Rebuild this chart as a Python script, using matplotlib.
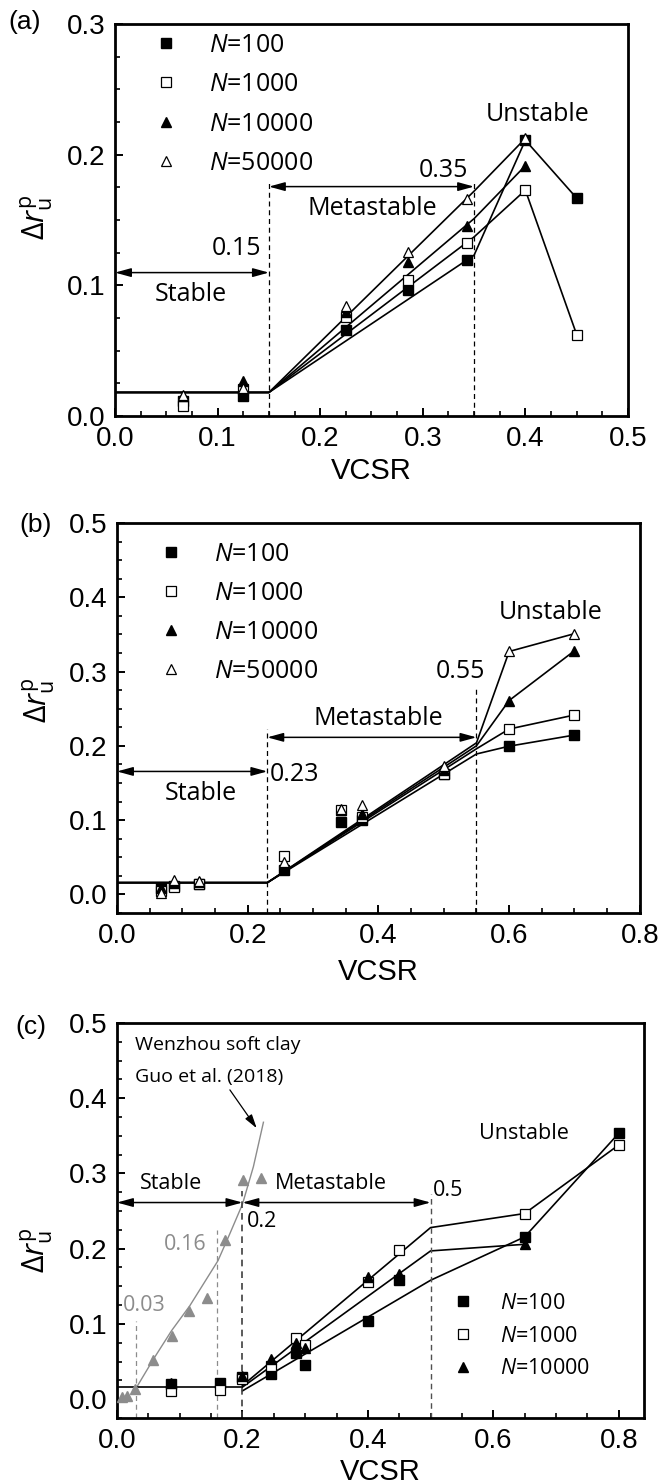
import numpy as np
import matplotlib
matplotlib.use("Agg")
import matplotlib.pyplot as plt
from matplotlib.ticker import MultipleLocator
from matplotlib.font_manager import FontProperties
from matplotlib.lines import Line2D

plt.rcParams['font.family'] = ['Liberation Sans', 'DejaVu Sans']
plt.rcParams['mathtext.fontset'] = 'custom'
plt.rcParams['mathtext.rm'] = 'Open Sans'
plt.rcParams['mathtext.it'] = 'Open Sans:italic'

# ---- panel (a) ----
a_x = [0.0667, 0.125, 0.225, 0.286, 0.343, 0.4, 0.45]
a_n100 = [0.0117, 0.0153, 0.0656, 0.0963, 0.1197, 0.211, 0.1667]
a_n1000 = [0.0077, 0.021, 0.0758, 0.1044, 0.1325, 0.1728, 0.0623]
a_n10000 = [0.0150, 0.027, 0.0797, 0.118, 0.1455, 0.1915]
a_n50000 = [0.0158, 0.0212, 0.0843, 0.1251, 0.166, 0.2124]
a_line_x = [0, 0.15, 0.35, 0.4, 0.45]
a_fit_n100 = [0.018, 0.018, 0.123, 0.211, 0.1667]
a_fit_n1000 = [0.018, 0.018, 0.137, 0.1728, 0.0623]
a_fit_n10000 = [0.018, 0.018, 0.151, 0.1915]
a_fit_n50000 = [0.018, 0.018, 0.172, 0.2124]
a_bounds = [0.15, 0.35]

# ---- panel (b) ----
b_x = [0.0667, 0.0875, 0.125, 0.255, 0.342, 0.375, 0.5, 0.6, 0.7]
b_n100 = [0.009, 0.011, 0.0135, 0.033, 0.098, 0.100, 0.162, 0.1995, 0.2145]
b_n1000 = [0.0045, 0.0104, 0.0135, 0.052, 0.113, 0.104, 0.162, 0.2226, 0.2415]
b_n10000 = [0.009, 0.016, 0.017, 0.040, 0.113, 0.108, 0.167, 0.261, 0.328]
b_n50000 = [0.002, 0.020, 0.018, 0.043, 0.115, 0.120, 0.173, 0.327, 0.351]
b_line_x = [0, 0.23, 0.55, 0.6, 0.7]
b_fit_n100 = [0.0158, 0.0158, 0.189, 0.1995, 0.2145]
b_fit_n1000 = [0.0158, 0.0158, 0.196, 0.2226, 0.2415]
b_fit_n10000 = [0.0158, 0.0158, 0.200, 0.261, 0.328]
b_fit_n50000 = [0.0158, 0.0158, 0.204, 0.327, 0.351]
b_bounds = [0.23, 0.55]

# ---- panel (c) ----
c_x = [0.0867, 0.165, 0.2, 0.245, 0.286, 0.3, 0.4, 0.45, 0.65, 0.8]
c_n100 = [0.020, 0.021, 0.029, 0.034, 0.061, 0.045, 0.1044, 0.1587, 0.2156, 0.3533]
c_n1000 = [0.011, 0.012, 0.0267, 0.044, 0.081, 0.072, 0.1555, 0.1977, 0.2467, 0.3378]
c_x_n10000 = [0.0867, 0.2, 0.245, 0.286, 0.3, 0.4, 0.45, 0.65]
c_n10000 = [0.021, 0.031, 0.054, 0.074, 0.068, 0.162, 0.166, 0.2058]
c_flat_x = [0, 0.2]
c_flat_y = [0.016, 0.016]
c_fit_x = [0.2, 0.5, 0.65, 0.8]
c_fit_n100 = [0.011, 0.158, 0.2156, 0.3533]
c_fit_n1000 = [0.018, 0.228, 0.2467, 0.3378]
c_fit_n10000 = [0.016, 0.197, 0.2058]
c_bounds = [0.2, 0.5]
guo_x = [0.0075, 0.0155, 0.029, 0.058, 0.087, 0.115, 0.143, 0.172, 0.2015, 0.229]
guo_y = [0.003, 0.0044, 0.0133, 0.052, 0.0844, 0.1177, 0.134, 0.212, 0.291, 0.294]
guo_curve_x = [0.03, 0.058, 0.087, 0.116, 0.161, 0.18, 0.2, 0.2175, 0.2335]
guo_curve_y = [0.014, 0.053, 0.091, 0.124, 0.184, 0.22, 0.259, 0.309, 0.368]
guo_bounds = [0.03, 0.16]

labels = ['$\\mathit{N}$=100', '$\\mathit{N}$=1000', '$\\mathit{N}$=10000', '$\\mathit{N}$=50000']
styles = [dict(marker='s', mfc='black', mec='black', ms=6.5),
          dict(marker='s', mfc='white', mec='black', ms=6.5, mew=0.9),
          dict(marker='^', mfc='black', mec='black', ms=7.5),
          dict(marker='^', mfc='white', mec='black', ms=7.5, mew=0.9)]
GRAY = '#8c8c8c'
ANN = 'Open Sans'


def style_axes(ax, xlim, ylim, xmaj, xmin, ymaj, ymin, xfmt):
    ax.set_xlim(*xlim)
    ax.set_ylim(*ylim)
    ax.xaxis.set_major_locator(MultipleLocator(xmaj))
    ax.xaxis.set_minor_locator(MultipleLocator(xmin))
    ax.yaxis.set_major_locator(MultipleLocator(ymaj))
    ax.yaxis.set_minor_locator(MultipleLocator(ymin))
    ax.xaxis.set_major_formatter(plt.FormatStrFormatter(xfmt))
    ax.yaxis.set_major_formatter(plt.FormatStrFormatter('%.1f'))
    ax.tick_params(which='both', direction='in', top=False, right=False)
    ax.tick_params(which='major', length=6, width=1.4, labelsize=20, pad=7)
    ax.tick_params(which='minor', length=3.5, width=1.2)
    for sp in ax.spines.values():
        sp.set_linewidth(2)
    ax.set_xlabel('VCSR', fontsize=21, va='top')
    ax.set_ylabel('$\\Delta \\mathit{r}_{\\rm u}^{\\rm p}$', fontsize=22)


def span(ax, x0, x1, y, color='black'):
    ax.annotate('', xy=(x1, y), xytext=(x0, y),
                arrowprops=dict(arrowstyle='<|-|>,head_length=0.8,head_width=0.22',
                                color=color, lw=1.1, shrinkA=0, shrinkB=0,
                                mutation_scale=12))


def note(ax, x, y, s, size, ha='center', color='black'):
    ax.text(x, y, s, fontsize=size, family=ANN, ha=ha, va='center', color=color)


def legend(ax, n, x, y, size, spacing):
    hs = [Line2D([], [], ls='none', **styles[i]) for i in range(n)]
    ax.legend(hs, labels[:n], loc='upper left', bbox_to_anchor=(x, y), frameon=False,
              prop=FontProperties(family=ANN, size=size), handlelength=1.0,
              handletextpad=1.25, labelspacing=spacing, borderpad=0, borderaxespad=0,
              markerscale=1.0)


fig = plt.figure(figsize=(6.61, 14.84), dpi=100)

# ========== (a) ==========
ax = fig.add_axes([0.174, 0.7197, 0.776, 0.2642])
for xs, ys, st in zip([a_x, a_x, a_x[:6], a_x[:6]], [a_n100, a_n1000, a_n10000, a_n50000], styles):
    ax.plot(xs, ys, ls='none', **st, zorder=3)
for ys in [a_fit_n100, a_fit_n1000, a_fit_n10000, a_fit_n50000]:
    ax.plot(a_line_x[:len(ys)], ys, color='black', lw=1.2, zorder=2)
ax.vlines(a_bounds[0], 0, 0.1806, colors='black', linestyles=(0, (4, 3)), lw=0.9)
ax.vlines(a_bounds[1], 0, 0.179, colors='black', linestyles=(0, (4, 3)), lw=0.9)
span(ax, 0, a_bounds[0], 0.1097)
span(ax, a_bounds[0], a_bounds[1], 0.1755)
note(ax, 0.1425, 0.128, '0.15', 18, ha='right')
note(ax, 0.074, 0.093, 'Stable', 18)
note(ax, 0.2505, 0.159, 'Metastable', 18)
note(ax, 0.344, 0.188, '0.35', 18, ha='right')
note(ax, 0.412, 0.231, 'Unstable', 18)
style_axes(ax, (0, 0.5), (0, 0.3), 0.1, 0.025, 0.1, 0.025, '%.1f')
ax.xaxis.set_label_coords(0.5, -0.105)
ax.yaxis.set_label_coords(-0.117, 0.505)
legend(ax, 4, 0.0745, 0.978, 18, 0.58)
fig.text(0.012, 0.985, '(a)', fontsize=19, va='center')

# ========== (b) ==========
ax = fig.add_axes([0.177, 0.3848, 0.791, 0.2628])
for ys, st in zip([b_n100, b_n1000, b_n10000, b_n50000], styles):
    ax.plot(b_x, ys, ls='none', **st, zorder=3)
for ys in [b_fit_n100, b_fit_n1000, b_fit_n10000, b_fit_n50000]:
    ax.plot(b_line_x, ys, color='black', lw=1.2, zorder=2)
ax.vlines(b_bounds[0], -0.025, 0.2226, colors='black', linestyles=(0, (4, 3)), lw=0.9)
ax.vlines(b_bounds[1], -0.025, 0.279, colors='black', linestyles=(0, (4, 3)), lw=0.9)
span(ax, 0, b_bounds[0], 0.1655)
span(ax, b_bounds[0], b_bounds[1], 0.2114)
note(ax, 0.1275, 0.1356, 'Stable', 18)
note(ax, 0.234, 0.162, '0.23', 18, ha='left')
note(ax, 0.40, 0.2374, 'Metastable', 18)
note(ax, 0.564, 0.300, '0.55', 18, ha='right')
note(ax, 0.664, 0.379, 'Unstable', 18)
style_axes(ax, (0, 0.8), (-0.025, 0.5), 0.2, 0.05, 0.1, 0.025, '%.1f')
ax.xaxis.set_label_coords(0.5, -0.115)
ax.yaxis.set_label_coords(-0.115, 0.546)
legend(ax, 4, 0.0788, 0.952, 18, 0.56)
fig.text(0.029, 0.646, '(b)', fontsize=19, va='center')

# ========== (c) ==========
ax = fig.add_axes([0.177, 0.0445, 0.797, 0.2662])
ax.plot(guo_curve_x, guo_curve_y, color=GRAY, lw=1.0, zorder=2)
ax.plot(guo_x, guo_y, ls='none', marker='^', mfc=GRAY, mec=GRAY, ms=7, zorder=3)
for xs, ys, st in zip([c_x, c_x, c_x_n10000], [c_n100, c_n1000, c_n10000], styles):
    ax.plot(xs, ys, ls='none', **st, zorder=3)
ax.plot(c_flat_x, c_flat_y, color='black', lw=1.2, zorder=2)
for ys in [c_fit_n100, c_fit_n1000, c_fit_n10000]:
    ax.plot(c_fit_x[:len(ys)], ys, color='black', lw=1.2, zorder=2)
ax.vlines(guo_bounds[0], -0.025, 0.1044, colors=GRAY, linestyles=(0, (4, 3)), lw=0.9)
ax.vlines(guo_bounds[1], -0.025, 0.2244, colors=GRAY, linestyles=(0, (4, 3)), lw=0.9)
ax.vlines(c_bounds[0], -0.025, 0.276, colors='#404040', linestyles=(0, (4, 3)), lw=1.2)
ax.vlines(c_bounds[1], -0.025, 0.2733, colors='#505050', linestyles=(0, (4, 3)), lw=1.0)
span(ax, 0, c_bounds[0], 0.2613)
span(ax, c_bounds[0], c_bounds[1], 0.2613)
note(ax, 0.087, 0.2867, 'Stable', 15.5)
note(ax, 0.341, 0.2867, 'Metastable', 15.5)
note(ax, 0.207, 0.2355, '0.2', 15.5, ha='left')
note(ax, 0.504, 0.2777, '0.5', 15.5, ha='left')
note(ax, 0.649, 0.3533, 'Unstable', 15.5)
note(ax, 0.1435, 0.2057, '0.16', 15.5, ha='right', color=GRAY)
note(ax, 0.010, 0.1244, '0.03', 15.5, ha='left', color=GRAY)
note(ax, 0.0287, 0.470, 'Wenzhou soft clay', 14, ha='left')
note(ax, 0.0287, 0.428, 'Guo et al. (2018)', 14, ha='left')
ax.annotate('', xy=(0.2228, 0.36), xytext=(0.180, 0.411),
            arrowprops=dict(arrowstyle='-|>,head_length=0.7,head_width=0.2',
                            color='black', lw=0.9, shrinkA=0, shrinkB=0, mutation_scale=12))
style_axes(ax, (0, 0.84), (-0.025, 0.5), 0.2, 0.05, 0.1, 0.025, '%.1f')
ax.xaxis.set_label_coords(0.5, -0.101)
ax.yaxis.set_label_coords(-0.118, 0.425)
legend(ax, 3, 0.636, 0.317, 15.5, 0.55)
fig.text(0.023, 0.308, '(c)', fontsize=19, va='center')

fig.savefig('out.png', dpi=100)
